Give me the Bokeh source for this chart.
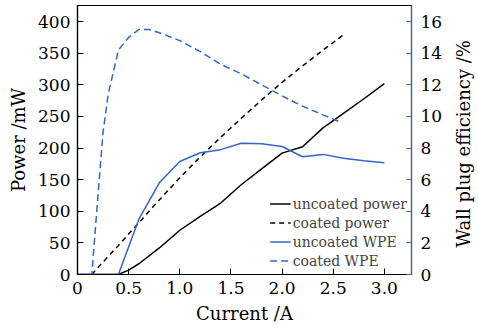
from bokeh.plotting import figure
from bokeh.models import LinearAxis, Range1d, FixedTicker, Legend
from bokeh.layouts import row
from bokeh.embed import file_html
from bokeh.resources import INLINE

# Data
cur_unc_power = [0.0, 0.4, 0.5, 0.6, 0.8, 1.0, 1.2, 1.4, 1.6, 1.8, 2.0, 2.2, 2.4, 2.6, 2.8, 3.0]
unc_power = [0, 0, 7, 17, 42, 70, 92, 113, 142, 167, 192, 202, 232, 255, 278, 302]

cur_coat_power = [0.14, 0.2, 0.4, 0.6, 0.8, 1.0, 1.2, 1.4, 1.6, 1.8, 2.0, 2.2, 2.4, 2.6]
coat_power = [0, 11, 46, 82, 118, 153, 186, 217, 247, 276, 304, 330, 355, 379]

cur_unc_wpe = [0.0, 0.4, 0.6, 0.8, 1.0, 1.2, 1.4, 1.6, 1.8, 2.0, 2.2, 2.4, 2.6, 2.8, 3.0]
unc_wpe = [0, 0, 3.5, 5.8, 7.15, 7.7, 7.9, 8.3, 8.27, 8.1, 7.45, 7.6, 7.35, 7.2, 7.07]

cur_coat_wpe = [0.0, 0.14, 0.2, 0.25, 0.3, 0.4, 0.5, 0.6, 0.7, 0.8, 1.0, 1.2, 1.4, 1.6, 1.8, 2.0, 2.2, 2.4, 2.55]
coat_wpe = [0, 0, 5.0, 9.0, 11.4, 14.2, 15.0, 15.5, 15.5, 15.3, 14.8, 14.1, 13.3, 12.7, 12.0, 11.3, 10.65, 10.1, 9.7]

x_ticks = [0, 0.5, 1.0, 1.5, 2.0, 2.5, 3.0]
y_ticks = [0, 50, 100, 150, 200, 250, 300, 350, 400]
y2_ticks = [0, 2, 4, 6, 8, 10, 12, 14, 16]

x_label = "Current /A"
y_label = "Power /mW"
y2_label = "Wall plug efficiency /%"

BLUE = "#3565c6"
FONT = "DejaVu Serif"
Y_TOP = 425.5
X_END = 3.265
TOP, BOTTOM = 5, 56

p = figure(width=450, height=330, x_range=(0, X_END), y_range=(0, Y_TOP),
           output_backend="svg", toolbar_location=None,
           min_border_left=77, min_border_right=39, min_border_top=TOP, min_border_bottom=BOTTOM)
p.extra_y_ranges = {"wpe": Range1d(0, Y_TOP / 25.0)}
p.xgrid.visible = False
p.ygrid.visible = False
p.outline_line_color = "black"
p.outline_line_width = 1.2
p.background_fill_color = "white"
p.border_fill_color = "white"

r1 = p.line(cur_unc_power, unc_power, line_color="black", line_width=1.5)
r2 = p.line(cur_coat_power, coat_power, line_color="black", line_width=1.5, line_dash="5 4")
r3 = p.line(cur_unc_wpe, unc_wpe, line_color=BLUE, line_width=1.5, y_range_name="wpe")
r4 = p.line(cur_coat_wpe, coat_wpe, line_color=BLUE, line_width=1.5, line_dash="7 4", y_range_name="wpe")

def style_axis(ax, color="black"):
    ax.axis_line_color = color
    ax.axis_line_width = 1.2
    ax.major_tick_line_color = color
    ax.major_tick_in = 6
    ax.major_tick_out = 0
    ax.minor_tick_line_color = None
    ax.major_label_text_font = FONT
    ax.major_label_text_font_size = "17px"
    ax.major_label_text_color = "black"
    ax.axis_label_text_font = FONT
    ax.axis_label_text_font_size = "18px"
    ax.axis_label_text_font_style = "normal"
    ax.axis_label_text_color = "black"

xa = p.xaxis[0]
style_axis(xa)
xa.ticker = FixedTicker(ticks=x_ticks)
xa.major_label_overrides = {0: "0", 0.5: "0.5", 1: "1.0", 1.5: "1.5", 2: "2.0", 2.5: "2.5", 3: "3.0"}
xa.axis_label = x_label
xa.major_label_standoff = 7
xa.axis_label_standoff = 6

ya = p.yaxis[0]
style_axis(ya)
ya.ticker = FixedTicker(ticks=y_ticks)
ya.axis_label = y_label
ya.major_label_standoff = 7
ya.axis_label_standoff = 6

y2 = LinearAxis(y_range_name="wpe")
style_axis(y2, BLUE)
y2.ticker = FixedTicker(ticks=y2_ticks)
y2.major_tick_in = 5
y2.major_label_standoff = 9
p.add_layout(y2, "right")

legend = Legend(items=[("uncoated power", [r1]), ("coated power", [r2]),
                       ("uncoated WPE", [r3]), ("coated WPE", [r4])],
                location="bottom_right")
legend.background_fill_alpha = 0
legend.border_line_color = None
legend.label_text_font = FONT
legend.label_text_font_size = "14px"
legend.glyph_width = 21
legend.glyph_height = 19
legend.label_height = 19
legend.label_standoff = 2
legend.spacing = 0
legend.padding = 3
legend.margin = 4
p.add_layout(legend)

# narrow companion panel that carries the right-hand axis title (reads bottom to top)
p2 = figure(width=28, height=330, x_range=(0, 1), y_range=Range1d(0, Y_TOP / 25.0),
            output_backend="svg", toolbar_location=None,
            x_axis_location=None, y_axis_location=None, title_location="left",
            min_border_left=22, min_border_right=0, min_border_top=TOP, min_border_bottom=BOTTOM)
p2.xgrid.visible = False
p2.ygrid.visible = False
p2.outline_line_color = None
p2.background_fill_color = "white"
p2.border_fill_color = "white"
p2.title.text = y2_label
p2.title.align = "left"
p2.title.offset = 27
p2.title.standoff = 0
p2.title.text_font = FONT
p2.title.text_font_size = "18px"
p2.title.text_font_style = "normal"
p2.title.text_color = "black"

layout = row(p, p2, spacing=0)
open("out.html", "w").write(file_html(layout, INLINE))
